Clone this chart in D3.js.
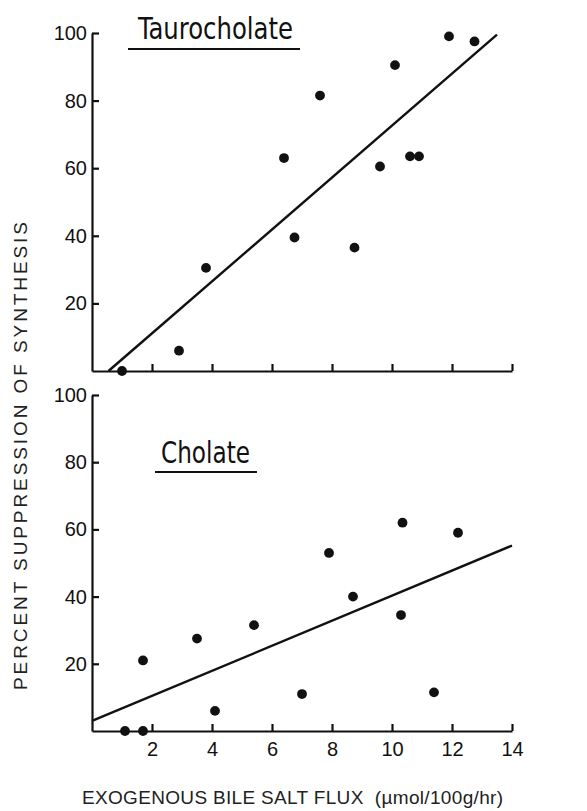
<!DOCTYPE html>
<html>
<head>
<meta charset="utf-8">
<script src="https://cdn.jsdelivr.net/npm/d3@7"></script>
<style>
  body { margin: 0; background: #fff; }
  svg { display: block; font-family: "Liberation Sans Narrow", "DejaVu Sans Condensed", "Liberation Sans", sans-serif; }
  .axis path, .axis line { stroke: #111; stroke-width: 2.2; }
  .axis text { font-family: "Liberation Sans", Arial, sans-serif; font-size: 20px; fill: #111; }
  .fit { stroke: #111; stroke-width: 2.4; fill: none; }
  .dot { fill: #111; }
  .title { font-size: 31px; fill: #111; }
  .axis-title { font-family: "Liberation Sans", Arial, sans-serif; font-size: 19px; fill: #222; }
</style>
</head>
<body>
<div id="vis"></div>
<script>
// Taurocholate: flux (umol/100g/hr) vs percent suppression
const tauroX = [1.0, 2.9, 3.8, 6.4, 6.75, 7.6, 8.75, 9.6, 10.1, 10.6, 10.9, 11.9, 12.75];
const tauroY = [0, 6, 30.5, 63, 39.5, 81.5, 36.5, 60.5, 90.5, 63.5, 63.5, 99, 97.5];
const tauroFit = [[0.55, 0], [13.5, 99.5]];

// Cholate
const cholX = [1.1, 1.7, 1.7, 3.5, 4.1, 5.4, 7.0, 7.9, 8.7, 10.3, 10.35, 11.4, 12.2];
const cholY = [0, 0, 21, 27.5, 6, 31.5, 11, 53, 40, 34.5, 62, 11.5, 59];
const cholFit = [[0, 3], [14, 55.2]];

const xTicks = [2, 4, 6, 8, 10, 12, 14];
const yTicks = [20, 40, 60, 80, 100];

const W = 587, H = 811;
const svg = d3.select("#vis").append("svg").attr("width", W).attr("height", H);

const x = d3.scaleLinear().domain([0, 14]).range([92, 512]);

const panels = [
  {name: "Taurocholate", xs: tauroX, ys: tauroY, fit: tauroFit, top: 33, bottom: 371, labels: false,
   title: {x: 138, y: 39, len: 155}, line: [128, 300, 49]},
  {name: "Cholate", xs: cholX, ys: cholY, fit: cholFit, top: 395, bottom: 731, labels: true,
   title: {x: 161, y: 463, len: 89}, line: [155, 257, 472]}
];

panels.forEach(p => {
  const y = d3.scaleLinear().domain([0, 100]).range([p.bottom, p.top]);
  const g = svg.append("g");

  const xAxis = d3.axisBottom(x).tickValues(xTicks).tickSizeInner(-7).tickSizeOuter(0).tickPadding(11)
    .tickFormat(p.labels ? d3.format("d") : () => "");
  g.append("g").attr("class", "axis").attr("transform", `translate(0,${p.bottom})`).call(xAxis);

  const yAxis = d3.axisLeft(y).tickValues(yTicks).tickSizeInner(-7).tickSizeOuter(0).tickPadding(5);
  g.append("g").attr("class", "axis").attr("transform", `translate(${x(0)},0)`).call(yAxis);

  g.append("path").attr("class", "fit")
    .attr("d", d3.line().x(d => x(d[0])).y(d => y(d[1]))(p.fit));

  g.selectAll(".dot").data(p.xs.map((v, i) => [v, p.ys[i]])).enter()
    .append("circle").attr("class", "dot")
    .attr("cx", d => x(d[0])).attr("cy", d => y(d[1])).attr("r", 4.9);

  g.append("text").attr("class", "title")
    .attr("x", p.title.x).attr("y", p.title.y)
    .attr("textLength", p.title.len).attr("lengthAdjust", "spacingAndGlyphs")
    .text(p.name);
  g.append("line").attr("x1", p.line[0]).attr("x2", p.line[1]).attr("y1", p.line[2]).attr("y2", p.line[2])
    .attr("stroke", "#111").attr("stroke-width", 2.2);
});

svg.append("text").attr("class", "axis-title")
  .attr("x", 82).attr("y", 804)
  .attr("textLength", 421).attr("lengthAdjust", "spacing")
  .text("EXOGENOUS BILE SALT FLUX\u00a0\u00a0(\u00b5mol/100g/hr)");

svg.append("text").attr("class", "axis-title")
  .attr("transform", "translate(27,690) rotate(-90)")
  .attr("textLength", 468).attr("lengthAdjust", "spacing")
  .text("PERCENT SUPPRESSION OF SYNTHESIS");
</script>
</body>
</html>
